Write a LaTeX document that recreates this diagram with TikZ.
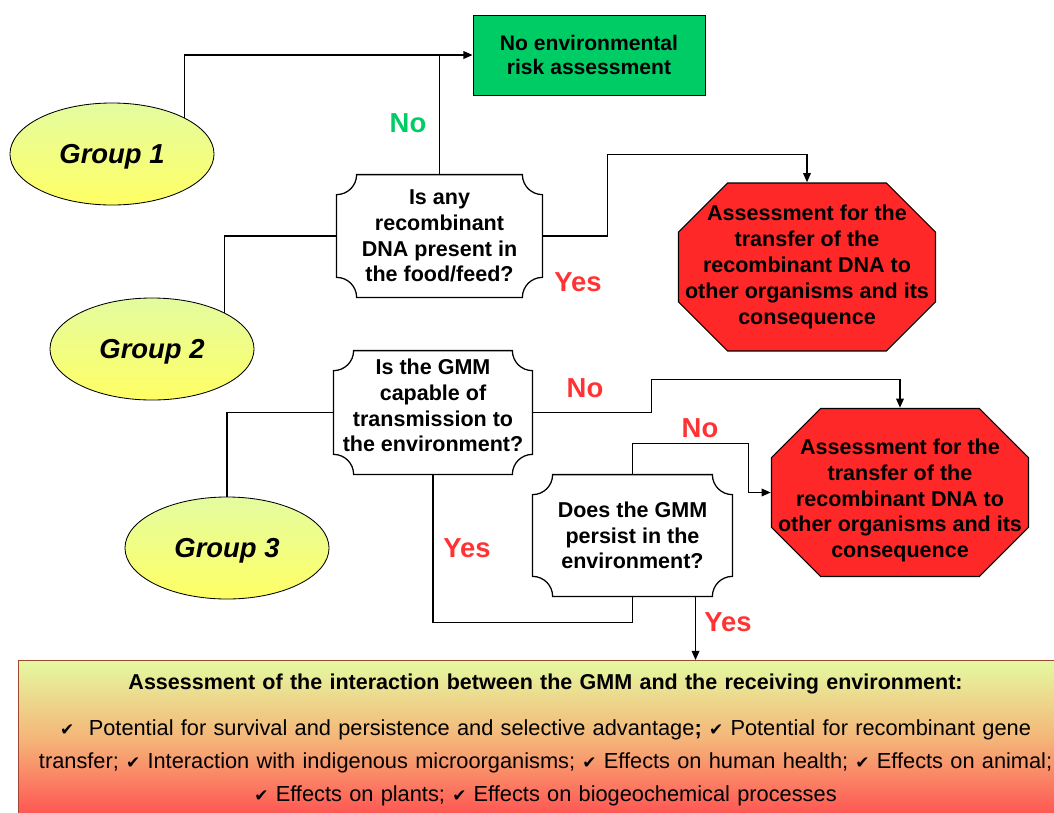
\documentclass[tikz,border=0pt]{standalone}
\usepackage{fontspec}
\setmainfont{Liberation Sans}
\newfontfamily\symfont{DejaVu Sans}
\usetikzlibrary{shapes.geometric,calc,arrows.meta}

\definecolor{grouplime}{RGB}{228,252,160}
\definecolor{groupyellow}{RGB}{255,255,100}
\definecolor{noragreen}{RGB}{0,204,102}
\definecolor{stopred}{RGB}{255,40,40}
\definecolor{labelred}{RGB}{255,51,51}
\definecolor{labelgreen}{RGB}{0,204,102}
\definecolor{boxtop}{RGB}{228,250,160}
\definecolor{boxmid}{RGB}{245,180,120}
\definecolor{boxbottom}{RGB}{255,80,80}
\definecolor{boxedge}{RGB}{160,70,50}

\newcommand\chk{{\symfont\fontsize{12}{23.5}\selectfont ✔}}

\begin{document}
\begin{tikzpicture}[>={Triangle[length=6.5pt,width=5.5pt]}, x=0.025cm, y=0.025cm,
  group/.style={ellipse, draw, line width=0.6pt, top color=grouplime, bottom color=groupyellow,
    minimum width=5.1cm, minimum height=2.55cm, inner sep=0pt, text depth=0pt,
    font=\fontsize{19.5}{22}\selectfont\bfseries\itshape},
  norisk/.style={rectangle, draw, line width=0.6pt, fill=noragreen, minimum width=5.8cm,
    minimum height=2cm, align=center, font=\fontsize{15}{17.7}\selectfont\bfseries},
  question/.style={rectangle, fill=white, align=center, inner sep=0pt,
    font=\fontsize{15.3}{18.3}\selectfont\bfseries,
    path picture={
      \coordinate (pa) at ([shift={(0.45pt,0.45pt)}]path picture bounding box.south west);
      \coordinate (pb) at ([shift={(-0.45pt,-0.45pt)}]path picture bounding box.north east);
      \draw[line width=0.9pt] ($(pa |- pb)+(\cornerr,0)$) -- ($(pb)-(\cornerr,0)$)
        arc[start angle=180, end angle=270, radius=\cornerr] -- ($(pb |- pa)+(0,\cornerr)$)
        arc[start angle=90, end angle=180, radius=\cornerr] -- ($(pa)+(\cornerr,0)$)
        arc[start angle=0, end angle=90, radius=\cornerr] -- ($(pa |- pb)-(0,\cornerr)$)
        arc[start angle=270, end angle=360, radius=\cornerr] -- cycle;
    }},
  stop/.style={rectangle, fill=white, align=center, inner sep=0pt,
    minimum width=6.45cm, minimum height=4.225cm,
    font=\fontsize{15.3}{18.4}\selectfont\bfseries,
    path picture={
      \coordinate (pa) at ([shift={(0.4pt,0.4pt)}]path picture bounding box.south west);
      \coordinate (pb) at ([shift={(-0.4pt,-0.4pt)}]path picture bounding box.north east);
      \filldraw[fill=stopred, line width=0.8pt] ($(pa |- pb)+(\chamfer,0)$) -- ($(pb)-(\chamfer,0)$)
        -- ($(pb)-(0,\chamfer)$) -- ($(pb |- pa)+(0,\chamfer)$) -- ($(pb |- pa)-(\chamfer,0)$)
        -- ($(pa)+(\chamfer,0)$) -- ($(pa)+(0,\chamfer)$) -- ($(pa |- pb)-(0,\chamfer)$) -- cycle;
    }},
  assessbox/.style={rectangle, draw=boxedge, line width=0.6pt, top color=boxtop,
    bottom color=boxbottom, middle color=boxmid, text width=27cm,
    inner xsep=-0.325cm, inner ysep=9.5pt, align=center, font=\fontsize{15.5}{23.5}\selectfont},
  answer/.style={font=\fontsize{19.5}{22}\selectfont\bfseries},
  link/.style={line width=0.9pt}]
% Parameters
\def\cornerr{0.5cm}
\def\chamfer{1.225cm}
\useasboundingbox (0,0) rectangle (1054,-812);

% === Bottom box ===
\node[assessbox, anchor=north west] (assess) at (18,-660)
  {{\fontsize{15.3}{23.5}\selectfont\bfseries Assessment of the interaction between the GMM and the receiving environment:}\\[9pt]
   \chk\ \ Potential for survival and persistence and selective advantage{\bfseries ;} \chk\ Potential for recombinant gene\\
   transfer; \chk\ Interaction with indigenous microorganisms; \chk\ Effects on human health; \chk\ Effects on animal;\hspace*{20pt}\\
   \chk\ Effects on plants; \chk\ Effects on biogeochemical processes};

% === Groups ===
\node[group] (g1) at (112,-154) {Group 1};
\node[group] (g2) at (152,-349) {Group 2};
\node[group] (g3) at (227,-548) {Group 3};

% === Outcome ===
\node[norisk] (noera) at (589,-55) {No environmental\\risk assessment};

% === Questions ===
\node[question, minimum width=5.175cm, minimum height=3.1cm] (qdna) at (439.5,-236)
  {Is any\\recombinant\\DNA present in\\the food/feed?};
\node[question, minimum width=5cm, minimum height=3.125cm, text depth=10pt] (qtrans) at (433,-412.5)
  {Is the GMM\\capable of\\transmission to\\the environment?};
\node[question, minimum width=5.025cm, minimum height=3.075cm] (qpersist) at (632.5,-535.5)
  {Does the GMM\\persist in the\\environment?};

% === Transfer assessments ===
\node[stop] (dnaone) at (807,-267)
  {Assessment for the\\transfer of the\\recombinant DNA to\\other organisms and its\\consequence};
\node[stop, text height=96pt] (dnatwo) at (900,-492.5)
  {Assessment for the\\transfer of the\\recombinant DNA to\\other organisms and its\\consequence};

% === Connections ===
\draw[link, ->] (g1.north east) |- (noera.west);
\draw[link] (qdna.north) -- (qdna.north |- noera.west);
\draw[link] (g2.north east) |- (qdna.west);
\draw[link, ->] (qdna.east) -- ++(64,0) |- ([yshift=0.7cm]dnaone.north) -- (dnaone.north);
\draw[link] (g3.north) |- (qtrans.west);
\draw[link, ->] (qtrans.east) -- ++(118,0) |- ([yshift=0.7cm]dnatwo.north) -- (dnatwo.north);
\draw[link] (qtrans.south) |- ([yshift=-0.625cm]qpersist.south) -- (qpersist.south);
\draw[link, ->] (qpersist.north) -- ++(0,30) -| ([xshift=-0.55cm]dnatwo.west) -- (dnatwo.west);
\coordinate (yesdrop) at ([xshift=1.575cm]qpersist.south);
\draw[link, ->] (yesdrop) -- (yesdrop |- assess.north);

% === Labels ===
\node[answer, text=labelgreen] (nodna) at (408,-123) {No};
\node[answer, text=labelred] (yesdna) at (578,-282) {Yes};
\node[answer, text=labelred] (notrans) at (585,-388) {No};
\node[answer, text=labelred] (yestrans) at (467,-548) {Yes};
\node[answer, text=labelred] (nopersist) at (700,-428) {No};
\node[answer, text=labelred] (yespersist) at (728,-622) {Yes};
\end{tikzpicture}
\end{document}
